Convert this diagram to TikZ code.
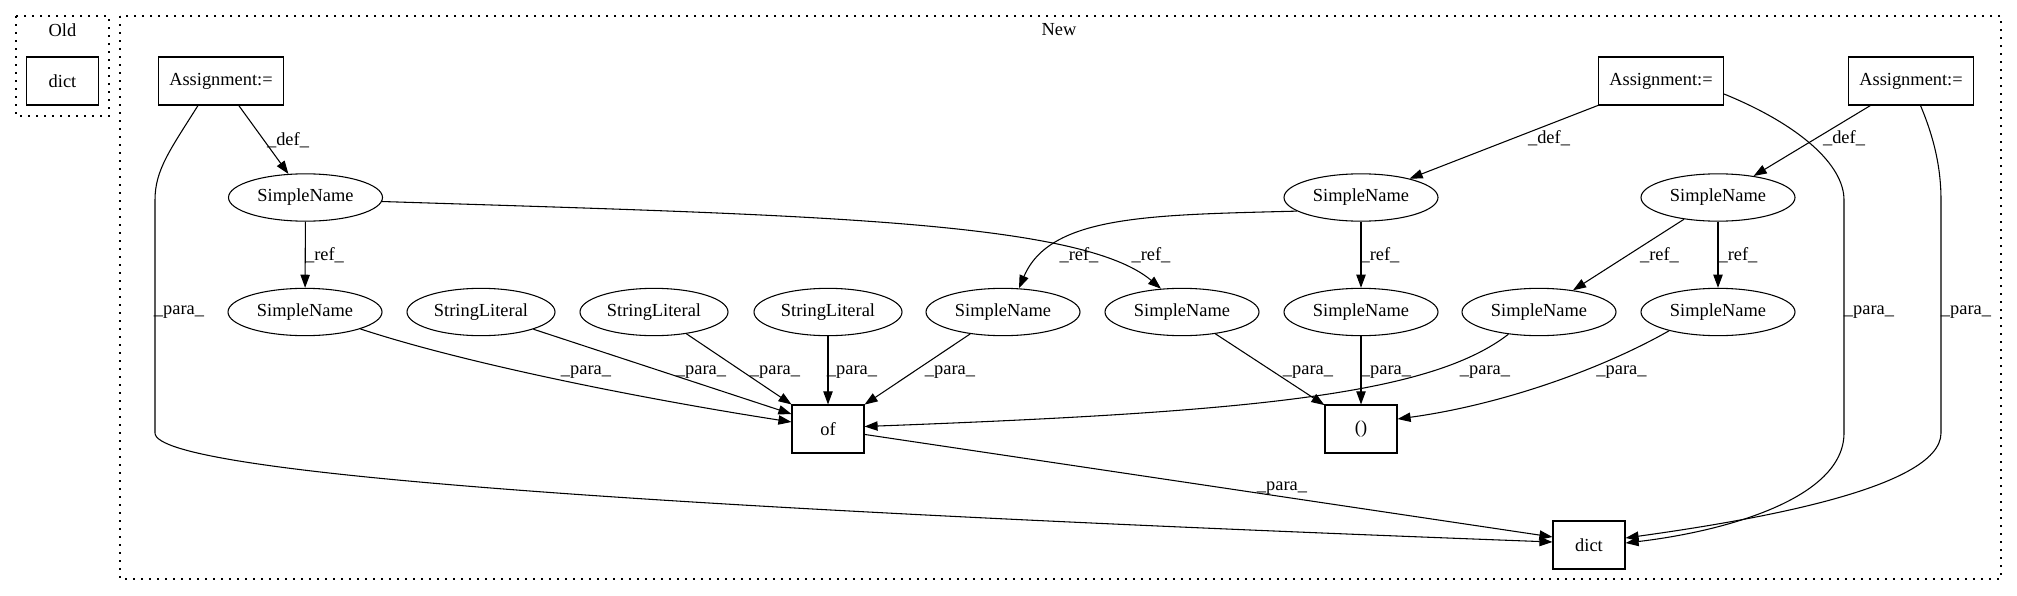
\documentclass[tikz,border=0pt]{standalone}
\usepackage{fontspec}
\setmainfont{Liberation Serif}
\usetikzlibrary{arrows.meta,calc,shapes.geometric}
\begin{document}
\begin{tikzpicture}[x=0.75pt,y=-0.75pt,
  every node/.style={font=\fontsize{13.8}{16}\selectfont},
  box/.style={draw,rectangle,minimum height=36pt,minimum width=54pt,inner sep=0pt,line width=0.8pt},
  abox/.style={box,minimum width=93.75pt},
  sname/.style={draw,ellipse,minimum width=115.5pt,minimum height=35.5pt,inner sep=0pt,line width=0.8pt},
  slit/.style={sname,minimum width=111pt},
  arr/.style={-{Triangle[length=9.8pt,width=7pt]},line width=0.8pt},
  lbl/.style={inner sep=0pt},
  cluster/.style={draw,dash pattern=on 1.2pt off 4.8pt,line width=0.9pt}]
\useasboundingbox (0,0) rectangle (2017,596);
% clusters
\draw[cluster] (16,16) rectangle (109,116);
\node (oldlbl) at (62.5,30) {Old};
\draw[cluster] (120,16) rectangle (2001,579);
\node (newlbl) at (1059,30) {New};
% nodes
\node[box] (olddict) at (62.5,81) {dict};
\node[abox] (A1) at (221,81) {Assignment:=};
\node[abox] (A2) at (1661,81) {Assignment:=};
\node[abox] (A3) at (1911,81) {Assignment:=};
\node[sname] (SNa) at (305.5,197.5) {SimpleName};
\node[sname] (SNb) at (1361,197.5) {SimpleName};
\node[sname] (SNc) at (1718,197.5) {SimpleName};
\node[sname] (SN1) at (305,312) {SimpleName};
\node[slit] (SL1) at (481,312) {StringLiteral};
\node[slit] (SL2) at (654,312) {StringLiteral};
\node[slit] (SL3) at (828,312) {StringLiteral};
\node[sname] (SN4) at (1003,312) {SimpleName};
\node[sname] (SN5) at (1182,312) {SimpleName};
\node[sname] (SN6) at (1361,312) {SimpleName};
\node[sname] (SN7) at (1539,312) {SimpleName};
\node[sname] (SN8) at (1718,312) {SimpleName};
\node[box] (of) at (828,429) {of};
\node[box] (par) at (1361,429) {()};
\node[box] (dict) at (1589,545) {dict};
% def edges
\draw[arr] (A1) -- (SNa) node[lbl] at (288,140) {\_def\_};
\draw[arr] (A2) -- (SNb) node[lbl] at (1549,138) {\_def\_};
\draw[arr] (A3) -- (SNc) node[lbl] at (1844,138) {\_def\_};
% ref edges
\draw[arr] (SNa) -- (SN1) node[lbl] at (324.5,255) {\_ref\_};
\draw[arr] (SNa.-3) .. controls (800,215) and (1080,220) .. (SN5.132) node[lbl] at (1151,255) {\_ref\_};
\draw[arr] (SNb.-168) .. controls (1150,215) and (1050,215) .. (SN4.56) node[lbl] at (1079,255) {\_ref\_};
\draw[arr] (SNb) -- (SN6) node[lbl] at (1380,255) {\_ref\_};
\draw[arr] (SNc) -- (SN7) node[lbl] at (1659.5,255) {\_ref\_};
\draw[arr] (SNc) -- (SN8) node[lbl] at (1738,255) {\_ref\_};
% para edges to of
\draw[arr] (SN1.-17) .. controls (470,365) and (650,400) .. ($(of.west)+(0,-7)$) node[lbl] at (586,372) {\_para\_};
\draw[arr] (SL1) -- ($(of.west)+(0,-15)$) node[lbl] at (701,372) {\_para\_};
\draw[arr] (SL2) -- (of) node[lbl] at (775,372) {\_para\_};
\draw[arr] (SL3) -- (of) node[lbl] at (852,372) {\_para\_};
\draw[arr] (SN4) -- (of) node[lbl] at (950,372) {\_para\_};
\draw[arr] (SN7.-144) .. controls (1430,395) and (1250,412) .. ($(of.east)+(0,-2.5)$) node[lbl] at (1485,372) {\_para\_};
% para edges to ()
\draw[arr] (SN5) -- (par) node[lbl] at (1308,372) {\_para\_};
\draw[arr] (SN6) -- (par) node[lbl] at (1386,372) {\_para\_};
\draw[arr] (SN8.-159) .. controls (1600,370) and (1500,405) .. ($(par.east)+(0,-10)$) node[lbl] at (1621.5,372) {\_para\_};
% para edges to dict
\draw[arr] (of) -- ($(dict.west)+(0,-8)$) node[lbl] at (1282,488) {\_para\_};
\draw[arr] ($(A1.south)+(-23,0)$) .. controls (170,150) and (155,170) .. (155,200) -- (155,433)
  .. controls (155,475) and (700,510) .. ($(dict.west)+(0,-3)$) node[lbl] at (179,312) {\_para\_};
\draw[arr] ($(A2.east)+(0,13)$) .. controls (1800,125) and (1844,165) .. (1844,200) -- (1844,433)
  .. controls (1844,500) and (1720,532) .. ($(dict.east)+(0,-2)$) node[lbl] at (1869,312) {\_para\_};
\draw[arr] ($(A3.south)+(9.5,0)$) .. controls (1935,140) and (1941,170) .. (1941,200) -- (1941,433)
  .. controls (1941,490) and (1740,522) .. ($(dict.east)+(0,-7)$) node[lbl] at (1966,312) {\_para\_};
\end{tikzpicture}
\end{document}
